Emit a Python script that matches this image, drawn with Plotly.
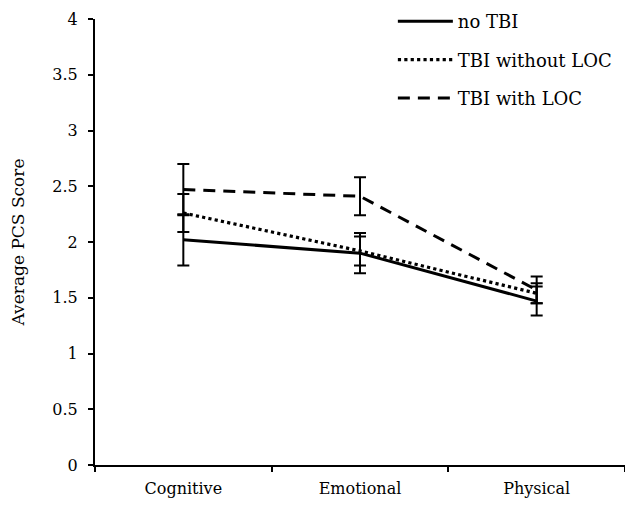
import plotly.graph_objects as go

categories = ["Cognitive", "Emotional", "Physical"]
series_names = ["no TBI", "TBI without LOC", "TBI with LOC"]
no_tbi = [2.02, 1.90, 1.47]
no_tbi_err = [0.23, 0.18, 0.13]
tbi_no_loc = [2.26, 1.92, 1.54]
tbi_no_loc_err = [0.17, 0.13, 0.09]
tbi_loc = [2.47, 2.41, 1.57]
tbi_loc_err = [0.23, 0.17, 0.12]
y_ticks = [0, 0.5, 1, 1.5, 2, 2.5, 3, 3.5, 4]
y_tick_text = ["0", "0.5", "1", "1.5", "2", "2.5", "3", "3.5", "4"]

FONT = "DejaVu Serif"

fig = go.Figure()
styles = [("solid", 3), ("dot", 3.2), ("12px,8px", 3)]
for i, (name, vals, errs) in enumerate(zip(series_names, [no_tbi, tbi_no_loc, tbi_loc],
                                            [no_tbi_err, tbi_no_loc_err, tbi_loc_err])):
    dash, w = styles[i]
    fig.add_trace(go.Scatter(
        x=categories, y=vals, name=name, mode="lines",
        line=dict(color="black", width=w, dash=dash),
        error_y=dict(type="data", array=errs, visible=True, color="black",
                     thickness=2, width=6),
        legendgroup=name,
    ))

fig.update_layout(
    width=617, height=492,
    margin=dict(l=87, r=0, t=11, b=35, autoexpand=False),
    paper_bgcolor="white", plot_bgcolor="white",
    font=dict(family=FONT, color="black", size=16),
    showlegend=True,
    legend=dict(x=0.562, y=1.036, xanchor="left", yanchor="top",
                font=dict(family=FONT, size=18, color="black"),
                bgcolor="rgba(0,0,0,0)", tracegroupgap=12,
                itemwidth=55),
    xaxis=dict(type="category", range=[-0.5, 2.5], showline=True, linecolor="black",
               linewidth=2, ticks="outside", tickson="boundaries", ticklen=5,
               tickwidth=2, tickcolor="black", showgrid=False, zeroline=False,
               ticklabelstandoff=8,
               tickfont=dict(family=FONT, size=16, color="black")),
    yaxis=dict(range=[0, 4], tickvals=y_ticks, ticktext=y_tick_text, showline=True,
               linecolor="black", linewidth=2, ticks="outside", ticklen=5,
               tickwidth=1.5, tickcolor="black", showgrid=False, zeroline=False,
               ticklabelstandoff=7,
               tickfont=dict(family=FONT, size=16, color="black"),
               title=dict(text="Average PCS Score", standoff=26,
                          font=dict(family=FONT, size=17, color="black"))),
)

fig.write_html("out.html")
